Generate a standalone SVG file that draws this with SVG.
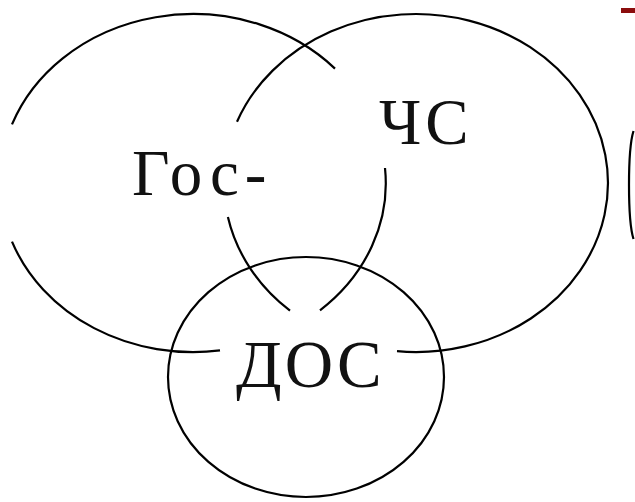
<svg xmlns="http://www.w3.org/2000/svg" width="635" height="502" viewBox="0 0 635 502">
<style>
.ring{fill:none;stroke:#000;stroke-width:2.2;}
.lbl{font-family:"Liberation Serif","Times New Roman",serif;fill:#111;}
</style>
<rect x="0" y="0" width="635" height="502" fill="#fff"/>
<g id="node-gos">
<path class="ring" d="M 335 68.6 A 193 169 0 0 0 12 124.4 M 12 241.6 A 193 169 0 0 0 220 350.4 M 320 310.3 A 193 169 0 0 0 385 168"/>
<text class="lbl" x="132" y="195" font-size="65" letter-spacing="6">Гос-</text>
</g>
<g id="node-chs">
<path class="ring" d="M 237 121.8 A 192 169 0 1 1 397 351.2 M 290 310.6 A 192 169 0 0 1 227.9 217"/>
<text class="lbl" x="379" y="144" font-size="65" letter-spacing="4">ЧС</text>
</g>
<g id="node-dos">
<ellipse class="ring" cx="306" cy="377" rx="138" ry="120"/>
<text class="lbl" x="236" y="387" font-size="67" letter-spacing="3">ДОС</text>
</g>
<g id="edge-fragments">
<path class="ring" d="M 633.5 131 C 627.5 150 627.5 220 633.5 239"/>
<rect x="621" y="8" width="14" height="5" fill="#8b0d0d"/>
</g>
<g id="connectors"/>
</svg>
